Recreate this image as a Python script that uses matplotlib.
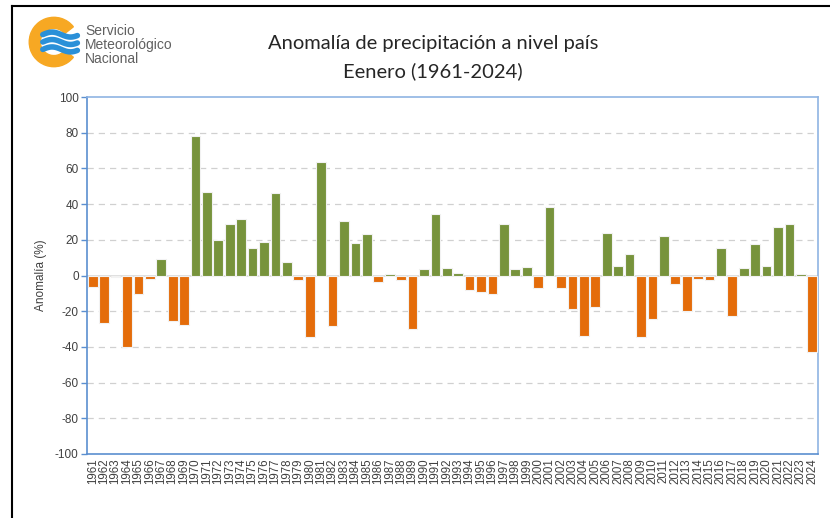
import numpy as np
import matplotlib.pyplot as plt
from matplotlib.patches import Wedge
from matplotlib.lines import Line2D

years = list(range(1961, 2025))
anomalia = [
    -6.4, -26.4, -1.1, -40.0, -10.5, -1.7, 9.3, -25.6, -27.9, 78.3,
    46.9, 20.0, 29.0, 31.6, 15.5, 18.9, 46.2, 7.5, -2.4, -34.6,
    63.6, -28.4, 30.3, 18.1, 23.0, -3.9, 0.9, -2.4, -29.9, 3.6,
    34.2, 4.1, 1.5, -8.4, -9.0, -10.5, 29.0, 3.6, 4.9, -7.1,
    38.3, -7.1, -19.0, -33.8, -17.8, 23.6, 5.6, 12.1, -34.6, -24.5,
    22.2, -4.5, -19.8, -1.7, -2.4, 15.5, -22.6, 4.1, 17.6, 5.6,
    26.9, 29.0, 0.9, -42.6,
]
yticks = list(range(-100, 101, 20))

verde = '#77933c'
naranja = '#e46c0a'
azul = '#5b8fd0'
gris_txt = '#404040'

fig = plt.figure(figsize=(8.3, 5.18), dpi=100)
W, H = 830, 518

# marco negro (arriba e izquierda)
fig.add_artist(Line2D([12 / W, 12 / W], [0, 1 - 6 / H], color='black', lw=1.5))
fig.add_artist(Line2D([12 / W, 1], [1 - 6 / H, 1 - 6 / H], color='black', lw=1.5))

ax = fig.add_axes([87 / W, 64 / H, 731 / W, 357 / H])
x = np.arange(len(years))
colores = [verde if v >= 0 else naranja for v in anomalia]
ax.bar(x, anomalia, width=0.85, color=colores, edgecolor='#f2f2f2', linewidth=0.8, zorder=3)

ax.set_xlim(-0.5, len(years) - 0.5)
ax.set_ylim(-100, 100)
ax.set_yticks(yticks)
ax.set_yticklabels([str(t) for t in yticks], fontsize=8.5, color=gris_txt, family='Liberation Sans')
ax.set_xticks(x)
ax.set_xticklabels([str(y) for y in years], rotation=90, fontsize=8.3, color=gris_txt,
                   family='Liberation Sans')
ax.tick_params(axis='x', length=0, pad=3)
ax.tick_params(axis='y', length=4, color=azul, width=1, pad=2)

for t in yticks[1:-1]:
    if t == 0:
        ax.axhline(0, color='#d9d9d9', lw=1.2, zorder=2)
    else:
        ax.axhline(t, color='#d0d0d0', lw=0.9, ls=(0, (5, 4)), zorder=1)

for s in ax.spines.values():
    s.set_color(azul)
    s.set_linewidth(1.2)
for s in ['top', 'right']:
    ax.spines[s].set_color('#8fb4e3')

ax.set_ylabel('Anomalía (%)', fontsize=8.5, color=gris_txt, family='Liberation Sans', labelpad=6)

fig.text(433 / W, 1 - 43 / H, 'Anomalía de precipitación a nivel país', ha='center', va='center',
         fontsize=14.5, color='#262626', family='Lato')
fig.text(433 / W, 1 - 71 / H, 'Eenero (1961-2024)', ha='center', va='center',
         fontsize=14.5, color='#262626', family='Lato')

# logo SMN
lax = fig.add_axes([28 / W, 1 - 68 / H, 58 / W, 52 / H])
lax.set_xlim(-1.05, 1.3)
lax.set_ylim(-1.05, 1.05)
lax.set_aspect('equal')
lax.axis('off')
lax.add_patch(Wedge((0, 0), 1.0, 38, 322, width=0.45, color='#f7a823'))
tt = np.linspace(-0.45, 0.95, 60)
for off in [0.3, 0.0, -0.3]:
    lax.plot(tt, off + 0.1 * np.sin((tt + 0.45) * 4.2), color='#2a90d8', lw=4.0,
             solid_capstyle='round')

fig.text(85 / W, 1 - 31 / H, 'Servicio', fontsize=10, color='#606060', va='center', family='Liberation Sans')
fig.text(85 / W, 1 - 45 / H, 'Meteorológico', fontsize=10, color='#606060', va='center', family='Liberation Sans')
fig.text(85 / W, 1 - 59 / H, 'Nacional', fontsize=10, color='#606060', va='center', family='Liberation Sans')

fig.savefig('out.png', dpi=100)
